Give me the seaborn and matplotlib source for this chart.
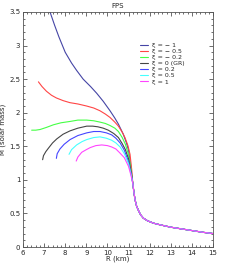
import numpy as np
import pandas as pd
import seaborn as sns
import matplotlib
matplotlib.use("Agg")
import matplotlib.pyplot as plt
from matplotlib.ticker import MultipleLocator, FormatStrFormatter

# FPS equation of state, mass-radius curves for several xi values
labels = ["ξ = − 1", "ξ = − 0.5", "ξ = − 0.2", "ξ = 0 (GR)", "ξ = 0.2", "ξ = 0.5", "ξ = 1"]
colors = ["#4545a5", "#ff4545", "#45ff45", "#454545", "#4545ff", "#45ffff", "#ff45ff"]

# shared low-mass tail (R, M)
tail_R = [11.26, 11.31, 11.38, 11.46, 11.57, 11.7, 11.9, 12.18, 12.5, 13.0, 13.5, 14.0, 14.5, 15.0]
tail_M = [0.80, 0.70, 0.61, 0.55, 0.48, 0.43, 0.39, 0.355, 0.33, 0.295, 0.27, 0.245, 0.22, 0.2]

R_m1 = [7.22, 7.28, 7.5, 7.7, 8.0, 8.3, 8.54, 8.85, 9.2, 9.49, 9.8, 10.12, 10.35, 10.52, 10.75, 10.9, 11.0, 11.1, 11.2]
M_m1 = [3.56, 3.5, 3.3, 3.13, 2.9, 2.74, 2.63, 2.5, 2.39, 2.29, 2.17, 2.03, 1.92, 1.83, 1.68, 1.55, 1.44, 1.22, 0.95]

R_m05 = [6.73, 6.9, 7.11, 7.35, 7.58, 7.9, 8.22, 8.6, 9.01, 9.35, 9.64, 9.9, 10.12, 10.35, 10.52, 10.7, 10.83, 10.97, 11.07, 11.15, 11.2]
M_m05 = [2.46, 2.39, 2.32, 2.26, 2.22, 2.18, 2.15, 2.13, 2.10, 2.07, 2.03, 1.98, 1.93, 1.86, 1.80, 1.71, 1.63, 1.51, 1.38, 1.15, 0.95]

R_m02 = [6.41, 6.6, 6.81, 7.1, 7.44, 7.8, 8.23, 8.6, 9.02, 9.35, 9.65, 9.9, 10.12, 10.35, 10.52, 10.7, 10.85, 11.0, 11.12, 11.2]
M_m02 = [1.74, 1.74, 1.75, 1.78, 1.82, 1.85, 1.87, 1.89, 1.89, 1.88, 1.86, 1.84, 1.81, 1.77, 1.72, 1.63, 1.53, 1.37, 1.15, 0.95]

R_gr = [6.93, 6.97, 7.08, 7.2, 7.4, 7.6, 7.9, 8.23, 8.6, 9.02, 9.3, 9.55, 9.8, 10.04, 10.3, 10.52, 10.7, 10.85, 11.0, 11.12, 11.2]
M_gr = [1.30, 1.36, 1.42, 1.47, 1.55, 1.61, 1.68, 1.73, 1.77, 1.80, 1.80, 1.79, 1.77, 1.74, 1.69, 1.63, 1.54, 1.45, 1.31, 1.12, 0.95]

R_p02 = [7.58, 7.62, 7.75, 7.95, 8.23, 8.6, 9.02, 9.35, 9.65, 9.95, 10.2, 10.4, 10.6, 10.8, 11.0, 11.12, 11.2]
M_p02 = [1.32, 1.39, 1.46, 1.53, 1.60, 1.66, 1.70, 1.72, 1.72, 1.70, 1.67, 1.62, 1.55, 1.44, 1.27, 1.10, 0.95]

R_p05 = [8.18, 8.3, 8.54, 8.8, 9.02, 9.35, 9.65, 9.95, 10.2, 10.4, 10.6, 10.8, 11.0, 11.12, 11.2]
M_p05 = [1.38, 1.45, 1.52, 1.57, 1.60, 1.63, 1.64, 1.62, 1.59, 1.55, 1.49, 1.39, 1.24, 1.08, 0.95]

R_p1 = [8.52, 8.6, 8.78, 9.0, 9.18, 9.45, 9.73, 10.0, 10.2, 10.4, 10.56, 10.8, 11.0, 11.12, 11.2]
M_p1 = [1.28, 1.34, 1.41, 1.45, 1.48, 1.51, 1.52, 1.51, 1.49, 1.46, 1.41, 1.33, 1.2, 1.06, 0.95]

curves = [(R_m1, M_m1), (R_m05, M_m05), (R_m02, M_m02), (R_gr, M_gr),
          (R_p02, M_p02), (R_p05, M_p05), (R_p1, M_p1)]

frames = []
for lab, (r, m) in zip(labels, curves):
    frames.append(pd.DataFrame({"R": r + tail_R, "M": m + tail_M, "xi": lab}))
df = pd.concat(frames, ignore_index=True)

sns.set_style("ticks")
plt.rcParams["font.family"] = ["DejaVu Sans"]

fig = plt.figure(figsize=(2.4, 2.66), dpi=100)
ax = fig.add_axes([23 / 240, 19 / 266, 190 / 240, 235 / 266])

sns.lineplot(data=df, x="R", y="M", hue="xi", palette=colors, sort=False,
             estimator=None, linewidth=0.8, ax=ax, legend=True)

ax.set_xlim(6, 15)
ax.set_ylim(0, 3.5)
ax.xaxis.set_major_locator(MultipleLocator(1))
ax.xaxis.set_minor_locator(MultipleLocator(0.2))
ax.yaxis.set_major_locator(MultipleLocator(0.5))
ax.yaxis.set_minor_locator(MultipleLocator(0.1))
ax.yaxis.set_major_formatter(FormatStrFormatter("%g"))
ax.tick_params(which="both", direction="in", top=True, right=True,
               labelsize=5, color="#555555", width=0.6, pad=2)
ax.tick_params(which="major", length=3)
ax.tick_params(which="minor", length=1.5)
for s in ax.spines.values():
    s.set_color("#555555")
    s.set_linewidth(0.6)

ax.set_title("FPS", fontsize=5, pad=3)
ax.set_xlabel("R (km)", fontsize=5, labelpad=0)
ax.set_ylabel("M (solar mass)", fontsize=5, labelpad=2)

ax.legend(title=None, frameon=False, fontsize=4.5, loc="upper left",
          bbox_to_anchor=(140 / 240, 1 - 42.5 / 266), bbox_transform=fig.transFigure,
          borderpad=0, borderaxespad=0, handlelength=1.3, handletextpad=0.7,
          labelspacing=0.12)

fig.savefig("out.png", dpi=100)
